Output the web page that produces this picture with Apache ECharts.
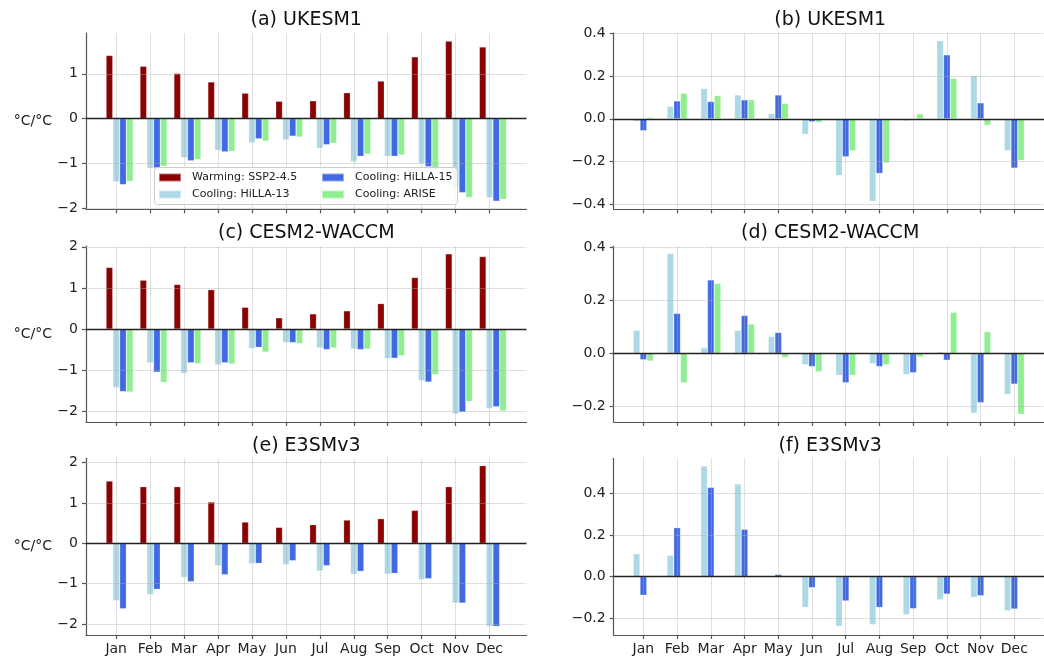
<!DOCTYPE html>
<html>
<head>
<meta charset="utf-8">
<script src="https://cdn.jsdelivr.net/npm/echarts@6/dist/echarts.min.js"></script>
<style>
  html, body { margin: 0; padding: 0; background: #fff; }
  #chart { width: 1044px; height: 658px; }
</style>
</head>
<body>
<div id="chart"></div>
<script>
const months = ['Jan', 'Feb', 'Mar', 'Apr', 'May', 'Jun', 'Jul', 'Aug', 'Sep', 'Oct', 'Nov', 'Dec'];

// UKESM1 response per degree
const ukWarm  = [1.41, 1.17, 1.01, 0.82, 0.57, 0.39, 0.40, 0.58, 0.84, 1.38, 1.73, 1.60];
const ukH13   = [-1.41, -1.11, -0.87, -0.71, -0.54, -0.47, -0.66, -0.96, -0.84, -1.00, -1.53, -1.76];
const ukH15   = [-1.47, -1.10, -0.94, -0.74, -0.45, -0.39, -0.58, -0.84, -0.84, -1.07, -1.65, -1.84];
const ukArise = [-1.40, -1.06, -0.91, -0.73, -0.50, -0.41, -0.55, -0.79, -0.81, -1.15, -1.76, -1.80];
// UKESM1 cooling + warming
const ukDiffH13   = [-0.012, 0.059, 0.142, 0.112, 0.025, -0.073, -0.266, -0.387, -0.010, 0.366, 0.203, -0.150];
const ukDiffH15   = [-0.056, 0.084, 0.081, 0.089, 0.112, -0.014, -0.178, -0.256, 0.000, 0.300, 0.075, -0.231];
const ukDiffArise = [0.008, 0.120, 0.109, 0.089, 0.072, -0.017, -0.150, -0.206, 0.023, 0.190, -0.031, -0.195];

// CESM2-WACCM
const ceWarm  = [1.50, 1.19, 1.085, 0.96, 0.53, 0.275, 0.37, 0.445, 0.62, 1.255, 1.83, 1.765];
const ceH13   = [-1.425, -0.82, -1.077, -0.875, -0.47, -0.33, -0.46, -0.486, -0.72, -1.255, -2.065, -1.935];
const ceH15   = [-1.52, -1.05, -0.82, -0.82, -0.445, -0.33, -0.50, -0.50, -0.71, -1.29, -2.02, -1.89];
const ceArise = [-1.53, -1.30, -0.84, -0.85, -0.56, -0.356, -0.46, -0.486, -0.65, -1.11, -1.765, -1.99];
const ceDiffH13   = [0.087, 0.377, 0.021, 0.087, 0.064, -0.043, -0.083, -0.039, -0.080, 0.006, -0.226, -0.155];
const ceDiffH15   = [-0.024, 0.151, 0.277, 0.143, 0.079, -0.050, -0.111, -0.050, -0.073, -0.026, -0.186, -0.116];
const ceDiffArise = [-0.029, -0.111, 0.264, 0.111, -0.016, -0.070, -0.083, -0.043, -0.013, 0.155, 0.082, -0.230];

// E3SMv3 (no ARISE)
const e3Warm = [1.545, 1.405, 1.405, 1.025, 0.529, 0.397, 0.463, 0.579, 0.612, 0.818, 1.405, 1.926];
const e3H13  = [-1.42, -1.27, -0.843, -0.554, -0.504, -0.529, -0.686, -0.769, -0.769, -0.901, -1.48, -2.058];
const e3H15  = [-1.62, -1.14, -0.95, -0.777, -0.496, -0.43, -0.554, -0.694, -0.744, -0.876, -1.48, -2.058];
const e3DiffH13 = [0.111, 0.103, 0.533, 0.447, 0.000, -0.148, -0.239, -0.231, -0.183, -0.111, -0.100, -0.164];
const e3DiffH15 = [-0.090, 0.236, 0.430, 0.228, 0.011, -0.053, -0.117, -0.148, -0.154, -0.084, -0.092, -0.156];

const panelTitles = ['(a) UKESM1', '(b) UKESM1', '(c) CESM2-WACCM', '(d) CESM2-WACCM', '(e) E3SMv3', '(f) E3SMv3'];
const intTicks = [-2, -1, 0, 1, 2];
const diffTicks = [-0.4, -0.2, 0, 0.2, 0.4];

const NAME_WARM = 'Warming: SSP2-4.5';
const NAME_H13 = 'Cooling: HiLLA-13';
const NAME_H15 = 'Cooling: HiLLA-15';
const NAME_ARISE = 'Cooling: ARISE';
const colors = {};
colors[NAME_WARM] = '#8b0000';
colors[NAME_H13] = '#add8e6';
colors[NAME_H15] = '#4169e1';
colors[NAME_ARISE] = '#90ee90';

const FONT = 'DejaVu Sans';
const monthIdx = months.map((m, i) => i);
const fmtNum = (v, d) => {
  const s = Math.abs(v).toFixed(d);
  return (v < -1e-9 ? '\u2212' : '') + s;
};

// layout of the six panels (pixels)
const rows = [{ top: 33, height: 176.3 }, { top: 246, height: 176 }, { top: 458.3, height: 176.7 }];
const cols = [{ left: 86, width: 440.5, xmin: -0.89, xmax: 12.09 }, { left: 613.7, width: 433, xmin: -0.88, xmax: 11.88 }];

const panels = [
  { ymin: -2.02, ymax: 1.91, ticks: [-2, -1, 0, 1], dec: 0,
    bars: [[NAME_WARM, ukWarm, -1], [NAME_H13, ukH13, 0], [NAME_H15, ukH15, 1], [NAME_ARISE, ukArise, 2]] },
  { ymin: -0.424, ymax: 0.402, ticks: diffTicks, dec: 1,
    bars: [[NAME_H13, ukDiffH13, -1], [NAME_H15, ukDiffH15, 0], [NAME_ARISE, ukDiffArise, 1]] },
  { ymin: -2.26, ymax: 2.02, ticks: intTicks, dec: 0,
    bars: [[NAME_WARM, ceWarm, -1], [NAME_H13, ceH13, 0], [NAME_H15, ceH15, 1], [NAME_ARISE, ceArise, 2]] },
  { ymin: -0.259, ymax: 0.405, ticks: [-0.2, 0, 0.2, 0.4], dec: 1,
    bars: [[NAME_H13, ceDiffH13, -1], [NAME_H15, ceDiffH15, 0], [NAME_ARISE, ceDiffArise, 1]] },
  { ymin: -2.27, ymax: 2.107, ticks: intTicks, dec: 0,
    bars: [[NAME_WARM, e3Warm, -1], [NAME_H13, e3H13, 0], [NAME_H15, e3H15, 1]] },
  { ymin: -0.281, ymax: 0.570, ticks: [-0.2, 0, 0.2, 0.4], dec: 1,
    bars: [[NAME_H13, e3DiffH13, -1], [NAME_H15, e3DiffH15, 0]] }
];

const grid = [], xAxis = [], yAxis = [], series = [], title = [];
const spine = { color: '#555', width: 1.2 };
const dotted = { type: 'dotted', color: '#b0b0b0', width: 0.8 };

panels.forEach((p, i) => {
  const r = rows[Math.floor(i / 2)];
  const c = cols[i % 2];
  const bottomRow = i >= 4;
  grid.push({ left: c.left, top: r.top, width: c.width, height: r.height });
  title.push({
    text: panelTitles[i], left: c.left + c.width / 2 - 5, top: r.top - 27, textAlign: 'center',
    textStyle: { fontFamily: FONT, fontSize: 19, fontWeight: 'normal', color: '#111' }
  });
  xAxis.push({
    gridIndex: i, type: 'value', min: c.xmin, max: c.xmax, z: 3,
    axisLine: { show: true, onZero: false, lineStyle: spine },
    axisTick: { show: true, length: 4, customValues: monthIdx, lineStyle: spine },
    axisLabel: { show: bottomRow, customValues: monthIdx, margin: 7, fontFamily: FONT, fontSize: 14, color: '#222',
      formatter: v => months[Math.round(v)] },
    splitLine: { show: false }
  });
  yAxis.push({
    gridIndex: i, type: 'value', min: p.ymin, max: p.ymax, z: 3,
    name: i % 2 === 0 ? '\u00b0C/\u00b0C' : '', nameLocation: 'middle', nameRotate: 0, nameGap: 34,
    nameMoveOverlap: false,
    nameTextStyle: { fontFamily: FONT, fontSize: 14, color: '#222', align: 'right', verticalAlign: 'middle' },
    axisLine: { show: true, onZero: false, lineStyle: spine },
    axisTick: { show: true, length: 4, customValues: p.ticks, lineStyle: spine },
    axisLabel: { customValues: p.ticks, margin: 8, fontFamily: FONT, fontSize: 14, color: '#222',
      formatter: v => fmtNum(v, p.dec) },
    splitLine: { show: false }
  });
  // dotted grid at month and value ticks, solid line at zero
  const lines = monthIdx.map(m => ({ xAxis: m, lineStyle: dotted }))
    .concat(p.ticks.filter(t => t !== 0).map(t => ({ yAxis: t, lineStyle: dotted })))
    .concat([{ yAxis: 0, lineStyle: { color: '#222', width: 1.3, type: 'solid' } }]);
  p.bars.forEach(([name, vals, off], k) => {
    const s = {
      type: 'bar', name: name, xAxisIndex: i, yAxisIndex: i,
      data: vals.map((v, m) => [m + off * 0.2, v]),
      barWidth: 6.8, barGap: '-100%',
      itemStyle: { color: colors[name], borderColor: 'rgba(255,255,255,0.45)', borderWidth: 0.6 },
      silent: true
    };
    if (k === 0) {
      s.markLine = { silent: true, symbol: ['none', 'none'], label: { show: false }, data: lines };
    }
    series.push(s);
  });
});

const legendBase = {
  orient: 'vertical', icon: 'rect', itemWidth: 22, itemHeight: 8, itemGap: 4, padding: 0,
  selectedMode: false, z: 95,
  textStyle: { fontFamily: FONT, fontSize: 11, color: '#222', lineHeight: 13, padding: [0, 0, 0, 6] }
};

const chart = echarts.init(document.getElementById('chart'));
chart.setOption({
  animation: false,
  textStyle: { fontFamily: FONT },
  title: title,
  grid: grid,
  xAxis: xAxis,
  yAxis: yAxis,
  legend: [
    Object.assign({}, legendBase, { data: [NAME_WARM, NAME_H13], left: 158, top: 171 }),
    Object.assign({}, legendBase, { data: [NAME_H15, NAME_ARISE], left: 321, top: 171 })
  ],
  graphic: {
    elements: [{
      type: 'rect', left: 154, top: 167, z: 90,
      shape: { width: 303, height: 37, r: 3 },
      style: { fill: 'rgba(255,255,255,0.8)', stroke: '#cccccc', lineWidth: 1 }
    }]
  },
  series: series
});
window.addEventListener('resize', () => chart.resize());
</script>
</body>
</html>
